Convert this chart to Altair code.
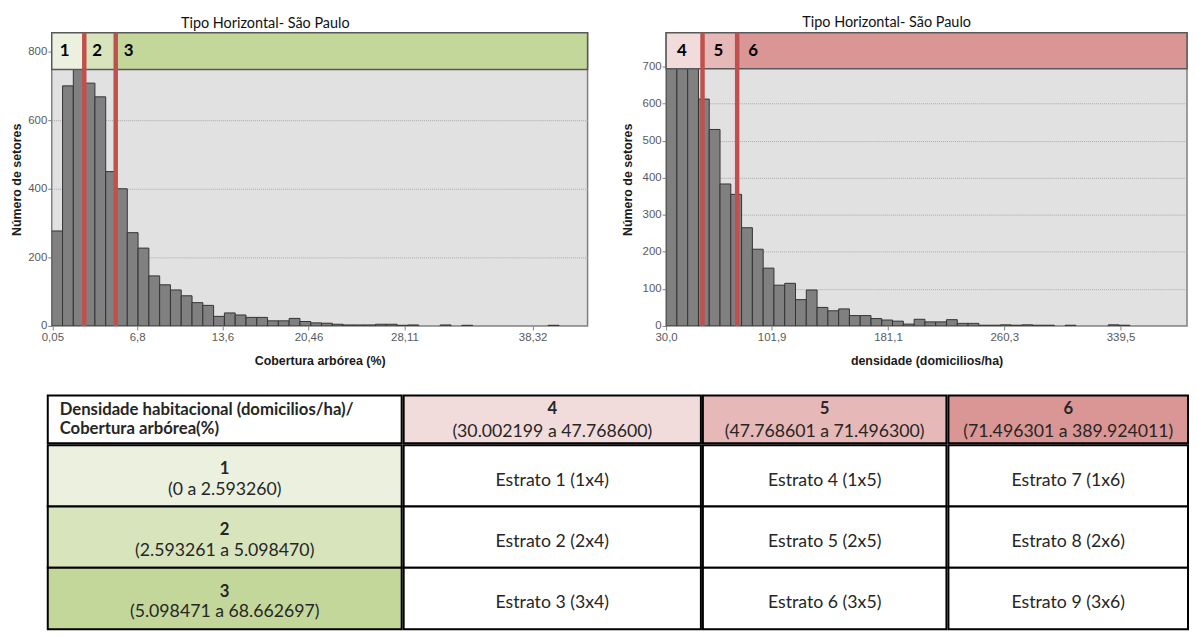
import altair as alt
import pandas as pd

# ---------------- Histogram 1: Cobertura arbórea (%) ----------------
cob_counts = [277, 700, 770, 708, 668, 450, 400, 272, 227, 146,
              120, 105, 88, 68, 60, 28, 38, 32, 25, 25,
              15, 15, 22, 13, 9, 8, 5, 3, 3, 3,
              5, 5, 2, 3, 0, 0, 3, 0, 2, 0,
              0, 0, 0, 0, 0, 0, 2]
cob_bin_start = 0.0
cob_bin_width = 0.86
cob_x_domain = [0.0, 42.7]
cob_y_domain = [0, 855]
cob_ticks = [0.05, 6.8, 13.6, 20.46, 28.11, 38.32]
cob_y_ticks = [0, 100, 200, 300, 400, 500, 600, 700, 800]
cob_cuts = [2.593260, 5.098470]
cob_classes = ["1", "2", "3"]
cob_colors = ["#ebf1de", "#d8e4bc", "#c4d79b"]
cob_band_low = 748

# ---------------- Histogram 2: densidade (domicilios/ha) ----------------
dens_counts = [730, 760, 720, 612, 530, 383, 355, 265, 207, 156,
               110, 115, 71, 97, 50, 41, 46, 28, 28, 20,
               16, 13, 5, 18, 11, 11, 17, 7, 7, 2,
               2, 3, 2, 3, 2, 2, 0, 2, 0, 0,
               0, 3, 2, 0, 0, 0, 0, 0, 0, 2]
dens_bin_start = 30.002199
dens_bin_width = 7.345
dens_x_domain = [30.0, 384.8]
dens_y_domain = [0, 791]
dens_ticks = [30.0, 101.9, 181.1, 260.3, 339.5]
dens_y_ticks = [0, 100, 200, 300, 400, 500, 600, 700]
dens_cuts = [54.8, 78.4]
dens_classes = ["4", "5", "6"]
dens_colors = ["#f2dcdb", "#e6b8b7", "#da9694"]
dens_band_low = 694

chart_title = "Tipo Horizontal- São Paulo"
y_title = "Número de setores"
cob_x_title = "Cobertura arbórea (%)"
dens_x_title = "densidade (domicilios/ha)"

# ---------------- Table ----------------
corner_lines = ["Densidade habitacional (domicilios/ha)/", "Cobertura arbórea(%)"]
row_ranges = ["(0 a 2.593260)", "(2.593261 a 5.098470)", "(5.098471 a 68.662697)"]
col_ranges = ["(30.002199 a 47.768600)", "(47.768601 a 71.496300)", "(71.496301 a 389.924011)"]
estratos = [["Estrato 1 (1x4)", "Estrato 4 (1x5)", "Estrato 7 (1x6)"],
            ["Estrato 2 (2x4)", "Estrato 5 (2x5)", "Estrato 8 (2x6)"],
            ["Estrato 3 (3x4)", "Estrato 6 (3x5)", "Estrato 9 (3x6)"]]

AX_FONT = "Liberation Sans"
TXT_FONT = "Lato"
AX_LABEL_SIZE = 11.5
AX_TITLE_SIZE = 12.5
Y_EXTENT = 24


def histogram(counts, start, width, xdom, ydom, xticks, label_expr, yticks, cuts,
              classes, colors, band_low, xtitle, pw, ph, title_dx, title_offset,
              ytitle_pad, label_dx):
    n = len(counts)
    df = pd.DataFrame({"lo": [start + i * width for i in range(n)], "count": counts})
    df["hi"] = df["lo"] + width
    df["base"] = 0
    df = df[df["count"] > 0]

    xs = alt.Scale(domain=xdom, nice=False, zero=False)
    ys = alt.Scale(domain=ydom, nice=False, zero=False)
    xaxis = alt.Axis(values=xticks, labelExpr=label_expr, grid=False, domain=False,
                     tickSize=4, tickColor="#7f7f7f", labelColor="#595959",
                     labelFont=AX_FONT, labelFontSize=AX_LABEL_SIZE, labelPadding=2,
                     labelFlush=False, labelOverlap=False, titleFont=AX_FONT,
                     titleFontSize=AX_TITLE_SIZE, titleFontWeight="bold",
                     titleColor="#1a1a1a", titlePadding=11)
    yaxis = alt.Axis(values=yticks, grid=True, gridColor="#a8a8a8", gridDash=[1, 1],
                     domain=False, tickSize=4, tickColor="#7f7f7f", labelColor="#595959",
                     labelFont=AX_FONT, labelFontSize=AX_LABEL_SIZE, labelPadding=1,
                     minExtent=Y_EXTENT, maxExtent=Y_EXTENT,
                     titleFont=AX_FONT, titleFontSize=AX_TITLE_SIZE, titleFontWeight="bold",
                     titleColor="#1a1a1a", titlePadding=ytitle_pad)

    bars = alt.Chart(df).mark_rect(fill="#808080", stroke="#333333", strokeWidth=1,
                                   clip=True).encode(
        x=alt.X("lo:Q", scale=xs, axis=xaxis, title=xtitle),
        x2="hi:Q",
        y=alt.Y("count:Q", scale=ys, axis=yaxis, title=y_title),
        y2="base:Q",
    )

    seg_lo = [xdom[0]] + list(cuts)
    seg_hi = list(cuts) + [xdom[1]]
    bdf = pd.DataFrame({"lo": seg_lo, "hi": seg_hi, "color": colors, "label": classes})
    bdf["ylo"] = band_low
    bdf["yhi"] = ydom[1]
    bdf["ymid"] = (band_low + ydom[1]) / 2

    band = alt.Chart(bdf).mark_rect(stroke="#595959", strokeWidth=1.5).encode(
        x=alt.X("lo:Q", title=xtitle), x2="hi:Q",
        y=alt.Y("ylo:Q", title=y_title), y2="yhi:Q",
        fill=alt.Fill("color:N", scale=None),
    )
    rules = alt.Chart(pd.DataFrame({"cut": cuts})).mark_rule(
        color="#c0504d", strokeWidth=4.5).encode(x=alt.X("cut:Q", title=xtitle))
    labels = alt.Chart(bdf).mark_text(font=TXT_FONT, fontSize=17, fontWeight="bold",
                                      color="#000000", align="center", baseline="middle",
                                      dx=label_dx).encode(
        x=alt.X("lo:Q", title=xtitle), y=alt.Y("ymid:Q", title=y_title), text="label:N")

    return alt.layer(bars, band, rules, labels).properties(
        width=pw, height=ph,
        title=alt.TitleParams(chart_title, font=TXT_FONT, fontSize=14.5,
                              fontWeight="normal", color="#111111", anchor="start",
                              frame="group", dx=title_dx, offset=title_offset),
        view=alt.ViewBackground(fill="#e1e1e1", stroke="#7f7f7f", strokeWidth=1.5),
    )


no_view = alt.ViewBackground(stroke="transparent", fill="transparent")


def spacer(w, h):
    # invisible layout spacer
    return alt.Chart(pd.DataFrame({"v": [0]})).mark_rule(opacity=0).encode(
        y=alt.value(0)).properties(width=w, height=h, view=no_view)


left = histogram(cob_counts, cob_bin_start, cob_bin_width, cob_x_domain, cob_y_domain,
                 cob_ticks, "replace(toString(datum.value), '.', ',')", cob_y_ticks,
                 cob_cuts, cob_classes, cob_colors, cob_band_low, cob_x_title,
                 539, 295, 130, -1, 4, 13)
right = histogram(dens_counts, dens_bin_start, dens_bin_width, dens_x_domain, dens_y_domain,
                  dens_ticks, "replace(format(datum.value, '.1f'), '.', ',')", dens_y_ticks,
                  dens_cuts, dens_classes, dens_colors, dens_band_low, dens_x_title,
                  524, 295, 137, 0, 8, 16)

hist_pair = alt.hconcat(left, right, spacing=31)
hist_row = alt.hconcat(spacer(1, 1), hist_pair, spacing=-2)

# ---------------- table cells ----------------
TXT = "#262626"
REG_SIZE = 17.8
BOLD_SIZE = 16.8
row_scale = alt.Scale(paddingInner=0, paddingOuter=0)


def ycode():
    return alt.Y("row:N", scale=row_scale, axis=None)


def rect_layer(df):
    return alt.Chart(df).mark_rect(stroke="#000000", strokeWidth=2).encode(
        y=ycode(), fill=alt.Fill("fill:N", scale=None))


def two_line_cell(df, w, h, align="center", xpos=None, bold_second=False, d1=-9, d2=13):
    enc1 = dict(y=ycode(), text="t1:N")
    enc2 = dict(y=ycode(), text="t2:N")
    if xpos is not None:
        enc1["x"] = alt.value(xpos)
        enc2["x"] = alt.value(xpos)
    t1 = alt.Chart(df).mark_text(font=TXT_FONT, fontSize=BOLD_SIZE, fontWeight="bold",
                                 color=TXT, align=align, baseline="middle", dy=d1).encode(**enc1)
    t2 = alt.Chart(df).mark_text(font=TXT_FONT,
                                 fontSize=BOLD_SIZE if bold_second else REG_SIZE,
                                 fontWeight="bold" if bold_second else "normal",
                                 color=TXT, align=align, baseline="middle", dy=d2).encode(**enc2)
    return alt.layer(rect_layer(df), t1, t2).properties(width=w, height=h, view=no_view)


col_w = [356, 299, 245, 241]
head_h = 48
body_h = 185
lead_w = 37

corner = two_line_cell(pd.DataFrame({"row": ["h"], "fill": ["#ffffff"],
                                     "t1": [corner_lines[0]], "t2": [corner_lines[1]]}),
                       col_w[0], head_h, align="left", xpos=12,
                       bold_second=True, d1=-9.5, d2=10)
heads = [two_line_cell(pd.DataFrame({"row": ["h"], "fill": [dens_colors[j]],
                                     "t1": [dens_classes[j]], "t2": [col_ranges[j]]}),
                       col_w[j + 1], head_h, d1=-10, d2=13) for j in range(3)]
header_row = alt.hconcat(spacer(lead_w, head_h), corner, *heads, spacing=-2)

row_head = two_line_cell(pd.DataFrame({"row": cob_classes, "fill": cob_colors,
                                       "t1": cob_classes, "t2": row_ranges}),
                         col_w[0], body_h, d1=-7, d2=14)
body_cols = []
for j in range(3):
    bdf = pd.DataFrame({"row": cob_classes, "fill": ["#ffffff"] * 3,
                        "txt": [estratos[r][j] for r in range(3)]})
    txt = alt.Chart(bdf).mark_text(font=TXT_FONT, fontSize=REG_SIZE, color=TXT,
                                   baseline="middle", dy=5).encode(
        y=ycode(), text="txt:N")
    body_cols.append(alt.layer(rect_layer(bdf), txt).properties(
        width=col_w[j + 1], height=body_h, view=no_view))
body_row = alt.hconcat(spacer(lead_w, body_h), row_head, *body_cols, spacing=-2)

table = alt.vconcat(header_row, body_row, spacing=-2)

chart = alt.vconcat(hist_row, table, spacing=26).properties(
    padding={"left": 1, "top": 4, "right": 0, "bottom": 0},
    background="#ffffff",
)

chart.save("out.html", embed_options={"renderer": "svg", "actions": False})
